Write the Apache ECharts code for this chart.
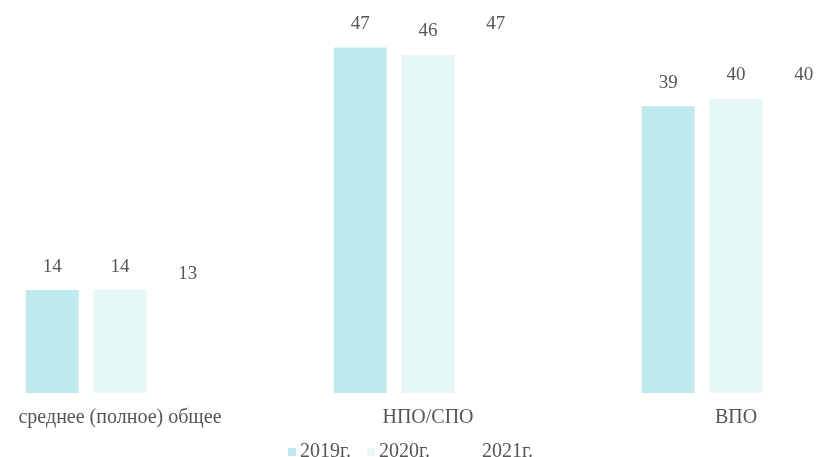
<!DOCTYPE html>
<html>
<head>
<meta charset="utf-8">
<script src="https://cdn.jsdelivr.net/npm/echarts@6/dist/echarts.min.js"></script>
<style>html,body{margin:0;padding:0;background:#fff;overflow:hidden;width:818px;height:457px;}#c{position:absolute;left:-34px;top:0;width:924px;height:457px;}</style>
</head>
<body>
<div id="c"></div>
<script>
const categories = ['среднее (полное) общее', 'НПО/СПО', 'ВПО'];
const seriesNames = ['2019г.', '2020г.', '2021г.'];
const v2019 = [14, 47, 39];
const v2020 = [14, 46, 40];
const v2021 = [13, 47, 40];
const colors = ['#bde9ef', '#e6f7f7', '#ffffff'];

const font = '"Liberation Serif", "DejaVu Serif", serif';
const chart = echarts.init(document.getElementById('c'));
const values = [v2019, v2020, v2021];
const legendLeft = [283, 362, 465];
chart.setOption({
  animation: false,
  backgroundColor: '#ffffff',
  grid: { left: 0, right: 0, top: 25.5, bottom: 64, containLabel: false },
  legend: seriesNames.map((n, i) => ({
    left: legendLeft[i] + 34, top: 437, itemWidth: 8, itemHeight: 8, itemGap: 5,
    icon: 'rect',
    textStyle: { fontFamily: font, fontSize: 20, color: '#555', padding: [0, 0, 0, -1] },
    data: [n]
  })),
  xAxis: {
    type: 'category', data: categories,
    axisLine: { show: false }, axisTick: { show: false },
    axisLabel: { fontFamily: font, fontSize: 20, color: '#555', margin: 15 }
  },
  yAxis: { type: 'value', min: 0, max: 50, show: false, splitLine: { show: false } },
  series: values.map((d, i) => ({
    name: seriesNames[i], type: 'bar', data: d,
    barWidth: 53, barGap: '28%',
    itemStyle: { color: colors[i] },
    label: { show: true, position: 'top', distance: 14, fontFamily: font, fontSize: 19, color: '#555' }
  }))
});
</script>
</body>
</html>
